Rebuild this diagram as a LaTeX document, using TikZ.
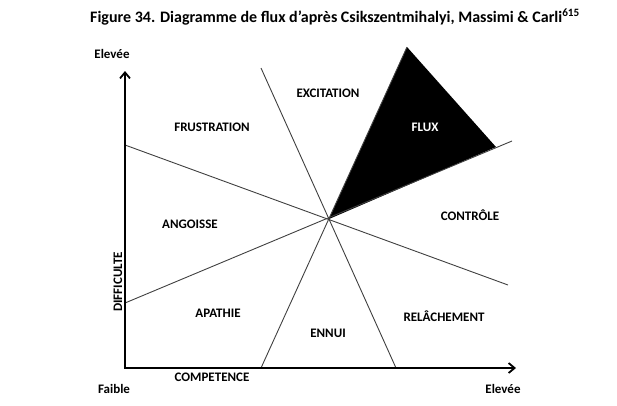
\documentclass[tikz,border=0pt]{standalone}
\usepackage{fontspec}
\setmainfont{Carlito}
\usetikzlibrary{arrows.meta}

\begin{document}
\begin{tikzpicture}[x=1pt, y=-1pt,
  zone/.style={font=\bfseries\fontsize{13}{15}\selectfont, text=black, inner sep=0pt},
  axlabel/.style={font=\bfseries\fontsize{13}{15}\selectfont, text=black, inner sep=0pt},
  sep/.style={draw=black!75, line width=0.9pt}]
 \useasboundingbox (0,0) rectangle (617,405);
 % title
 \node[font=\bfseries\fontsize{16}{18}\selectfont, inner sep=0pt] (TITLE) at (335,17)
   {Figure 34. Diagramme de flux d'après Csikszentmihalyi, Massimi \& Carli\textsuperscript{615}};
 % axes
 \coordinate (O) at (125,368);
 \coordinate (YTOP) at (125,71);
 \coordinate (XEND) at (516,368);
 % centre and line ends
 \coordinate (C) at (329,219);
 \coordinate (A1) at (125,145);
 \coordinate (A2) at (508,285);
 \coordinate (B1) at (125,303);
 \coordinate (B2) at (512,141);
 \coordinate (D1) at (261,68);
 \coordinate (D2) at (396,368);
 \coordinate (E1) at (261,368);
 \coordinate (APEX) at (407,47);
 \coordinate (FR) at (496,147);
 % flux triangle
 \fill[black] (C) -- (APEX) -- (FR) -- cycle;
 \draw[sep] (A1) -- (A2);
 \draw[sep] (B1) -- (B2);
 \draw[sep] (D1) -- (D2);
 \draw[sep] (E1) -- (APEX);
 \draw[->, >={Straight Barb[length=6pt,width=10pt,line width=1.8pt]}, line width=2.4pt] (O) -- (YTOP);
 \draw[->, >={Straight Barb[length=6pt,width=10pt,line width=1.8pt]}, line width=2.4pt] (O) -- (XEND);
 \fill (O) ++(-1.2,-1.2) rectangle ++(2.4,2.4);
 % zones
 \node[zone] (FRUSTRATION) at (212,127) {FRUSTRATION};
 \node[zone] (EXCITATION) at (328,93) {EXCITATION};
 \node[zone, text=white] (FLUX) at (425,127) {FLUX};
 \node[zone] (CONTROLE) at (470,215) {CONTRÔLE};
 \node[zone] (ANGOISSE) at (190,224) {ANGOISSE};
 \node[zone] (APATHIE) at (218,313) {APATHIE};
 \node[zone] (ENNUI) at (328,333) {ENNUI};
 \node[zone] (RELACHEMENT) at (444,316) {RELÂCHEMENT};
 % axis labels
 \node[zone, rotate=90] (DIFFICULTE) at (118,282) {DIFFICULTE};
 \node[zone] (COMPETENCE) at (212,377) {COMPETENCE};
 \node[axlabel] (HIGHY) at (112,54) {Elevée};
 \node[axlabel] (LOW) at (114,389) {Faible};
 \node[axlabel] (HIGHX) at (503,389) {Elevée};
\end{tikzpicture}
\end{document}
